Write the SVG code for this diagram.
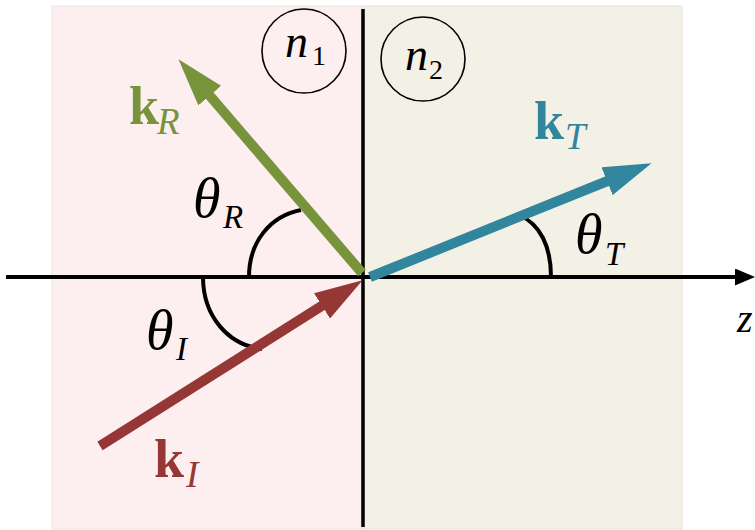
<svg xmlns="http://www.w3.org/2000/svg" width="755" height="530" viewBox="0 0 755 530">
<style>
text{font-family:'Times New Roman','Liberation Serif','DejaVu Serif',serif}
.it{font-style:italic}
.b{font-weight:bold}
.arc{fill:none;stroke:#000;stroke-width:4}
.circ{fill:none;stroke:#000;stroke-width:1.6}
</style>
<defs>
<marker id="hR" markerUnits="userSpaceOnUse" viewBox="0 0 48 30" markerWidth="48" markerHeight="30" refX="0.5" refY="15" orient="auto"><path d="M0,0 L48,15 L0,30 z" fill="#77933C"/></marker>
<marker id="hT" markerUnits="userSpaceOnUse" viewBox="0 0 48 30" markerWidth="48" markerHeight="30" refX="0.5" refY="15" orient="auto"><path d="M0,0 L48,15 L0,30 z" fill="#31859C"/></marker>
<marker id="hI" markerUnits="userSpaceOnUse" viewBox="0 0 48 30" markerWidth="48" markerHeight="30" refX="0.5" refY="15" orient="auto"><path d="M0,0 L48,15 L0,30 z" fill="#953735"/></marker>
<marker id="hz" markerUnits="userSpaceOnUse" viewBox="0 0 20 17" markerWidth="20" markerHeight="17" refX="0" refY="8.5" orient="auto"><path d="M0,0 L20,8.5 L0,17 z" fill="#000"/></marker>
</defs>
<g id="media">
<rect x="52" y="6" width="310" height="523" fill="#FDEFF0" stroke="#E8E4E4" stroke-width="1"/>
<rect x="362" y="6" width="320" height="523" fill="#F3F0E5" stroke="#E6E3DA" stroke-width="1"/>
</g>
<g id="axes">
<line x1="363" y1="9" x2="363" y2="527" stroke="#000" stroke-width="3.5"/>
<line x1="6" y1="277" x2="735" y2="277" stroke="#000" stroke-width="4" marker-end="url(#hz)"/>
</g>
<g id="angles">
<path class="arc" d="M249,277 C249,242 270,216 301,210"/>
<path class="arc" d="M203,277 C203,316 228,345 262,349"/>
<path class="arc" d="M519,215 C540,224 551,246 551,277"/>
</g>
<g id="connectors">
<line x1="362" y1="273" x2="209.4" y2="95.3" stroke="#77933C" stroke-width="10" marker-end="url(#hR)"/>
<line x1="370" y1="277" x2="607.5" y2="181" stroke="#31859C" stroke-width="10" marker-end="url(#hT)"/>
<line x1="100" y1="446" x2="322.4" y2="305.6" stroke="#953735" stroke-width="10" marker-end="url(#hI)"/>
</g>
<g id="n1">
<circle class="circ" cx="304" cy="51" r="42"/>
<text font-size="46"><tspan class="it" x="285" y="57">n</tspan><tspan x="312" y="65" font-size="28">1</tspan></text>
</g>
<g id="n2">
<circle class="circ" cx="423" cy="59" r="42"/>
<text font-size="46"><tspan class="it" x="405" y="70">n</tspan><tspan x="429" y="79" font-size="28">2</tspan></text>
</g>
<g id="kR">
<text fill="#77933C" font-size="54"><tspan class="b" x="129" y="124">k</tspan><tspan class="it" x="157" y="134" font-size="37">R</tspan></text>
</g>
<g id="kT">
<text fill="#31859C" font-size="54"><tspan class="b" x="534" y="139">k</tspan><tspan class="it" x="565" y="149" font-size="37">T</tspan></text>
</g>
<g id="kI">
<text fill="#953735" font-size="54"><tspan class="b" x="154" y="477">k</tspan><tspan class="it" x="186" y="487" font-size="37">I</tspan></text>
</g>
<g id="thetaR">
<text class="it" font-size="56"><tspan x="193" y="217">θ</tspan><tspan x="223" y="228" font-size="33">R</tspan></text>
</g>
<g id="thetaI">
<text class="it" font-size="56"><tspan x="146" y="349">θ</tspan><tspan x="176" y="360" font-size="33">I</tspan></text>
</g>
<g id="thetaT">
<text class="it" font-size="56"><tspan x="575" y="253">θ</tspan><tspan x="605" y="265" font-size="33">T</tspan></text>
</g>
<g id="zlabel">
<text class="it" x="737" y="332" font-size="40">z</text>
</g>
</svg>
